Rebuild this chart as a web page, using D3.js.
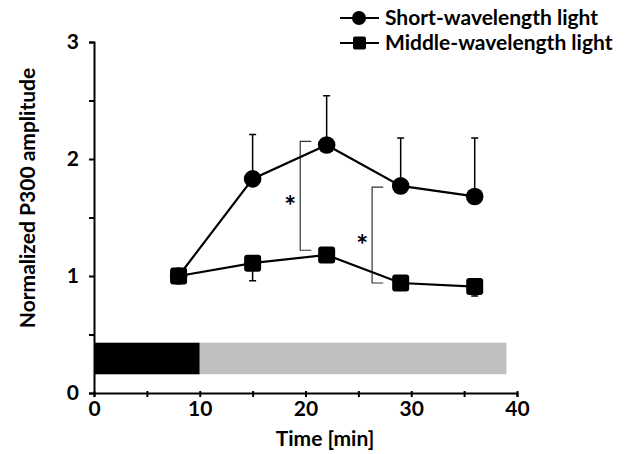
<!DOCTYPE html>
<html>
<head>
<meta charset="utf-8">
<script src="https://cdn.jsdelivr.net/npm/d3@7"></script>
<style>
  body { margin: 0; background: #fff; }
  svg text { font-family: Lato, "Open Sans", sans-serif; font-weight: bold; fill: #000; }
</style>
</head>
<body>
<svg id="chart" width="639" height="454"></svg>
<script>
var times = [8, 15, 22, 29, 36];
var shortVals = [1.00, 1.83, 2.12, 1.77, 1.68];
var shortErr = [0.03, 0.38, 0.42, 0.41, 0.50];
var middleVals = [1.00, 1.11, 1.18, 0.94, 0.91];
var middleErr = [0.03, 0.15, 0.05, 0.04, 0.08];
var xTicks = [0, 10, 20, 30, 40];
var yTicks = [0, 1, 2, 3];
var seriesNames = ['Short-wavelength light', 'Middle-wavelength light'];
// light schedule bar: [start, end] in minutes
var lightPhases = [[0, 10, '#000'], [10, 39, '#c0c0c0']];
// significance brackets: x, top, bottom
var brackets = [[19.5, 2.15, 1.22], [26.3, 1.76, 0.94]];

var svg = d3.select('#chart');
var x = d3.scaleLinear().domain([0, 40]).range([94, 517]);
var y = d3.scaleLinear().domain([0, 3]).range([393, 42]);

// light bar
svg.selectAll('rect.phase').data(lightPhases).enter().append('rect')
    .attr('class', 'phase')
    .attr('x', function(d) { return x(d[0]); })
    .attr('width', function(d) { return x(d[1]) - x(d[0]); })
    .attr('y', y(0.43))
    .attr('height', y(0.16) - y(0.43))
    .attr('fill', function(d) { return d[2]; });

// axes
var xAxis = svg.append('g').attr('transform', 'translate(0,' + y(0) + ')')
    .call(d3.axisBottom(x).tickValues(d3.range(0, 41, 5)).tickSize(4)
        .tickFormat(function(d) { return xTicks.indexOf(d) >= 0 ? d : ''; }));
var yAxis = svg.append('g').attr('transform', 'translate(' + x(0) + ',0)')
    .call(d3.axisLeft(y).tickValues(d3.range(0, 3.01, 0.5)).tickSize(5)
        .tickFormat(function(d) { return yTicks.indexOf(d) >= 0 ? d : ''; }));
[xAxis, yAxis].forEach(function(a) {
    a.select('.domain').attr('stroke', '#000').attr('stroke-width', 2);
    a.selectAll('.tick line').attr('stroke', '#000').attr('stroke-width', 2);
    a.selectAll('.tick text').attr('font-size', null).style('font-size', '21px')
        .attr('fill', '#000');
});
xAxis.selectAll('.tick line').attr('y1', -2);
xAxis.selectAll('.tick text').attr('y', 6).attr('dy', '0.8em');
yAxis.selectAll('.tick text').attr('x', -15);

svg.append('text').attr('x', 325).attr('y', 446).attr('text-anchor', 'middle')
    .style('font-size', '21px').text('Time [min]');
svg.append('text').attr('transform', 'translate(35,198) rotate(-90)')
    .attr('text-anchor', 'middle').style('font-size', '21px')
    .text('Normalized P300 amplitude');

// brackets
svg.selectAll('path.bracket').data(brackets).enter().append('path')
    .attr('class', 'bracket')
    .attr('fill', 'none').attr('stroke', '#333').attr('stroke-width', 1.2)
    .attr('d', function(d) {
        var bx = x(d[0]), w = x(d[0] + 1.05) - bx;
        return 'M' + (bx + w) + ',' + y(d[1]) + 'H' + bx + 'V' + y(d[2]) + 'H' + (bx + w);
    });
svg.selectAll('text.star').data(brackets).enter().append('text')
    .attr('class', 'star')
    .attr('x', function(d) { return x(d[0]) - 10; })
    .attr('y', function(d) { return y((d[1] + d[2]) / 2) + 20; })
    .attr('text-anchor', 'middle').attr('fill', '#000')
    .style('font-size', '28px').text('*');

function drawSeries(vals, errs, shape) {
    var g = svg.append('g');
    g.selectAll('path.err').data(times).enter().append('path')
        .attr('fill', 'none').attr('stroke', '#000').attr('stroke-width', 1.5)
        .attr('d', function(t, i) {
            var cx = x(t);
            var ey = shape == 'circle' ? y(vals[i] + errs[i]) : y(vals[i] - errs[i]);
            return 'M' + cx + ',' + y(vals[i]) + 'V' + ey + 'M' + (cx - 3.5) + ',' + ey + 'H' + (cx + 3.5);
        });
    var line = d3.line().x(function(d, i) { return x(times[i]); }).y(function(d) { return y(d); });
    g.append('path').datum(vals).attr('d', line)
        .attr('fill', 'none').attr('stroke', '#000').attr('stroke-width', 2.2);
    if (shape == 'circle') {
        g.selectAll('circle').data(vals).enter().append('circle')
            .attr('cx', function(d, i) { return x(times[i]); })
            .attr('cy', function(d) { return y(d); })
            .attr('r', 8.8).attr('fill', '#000');
    } else {
        g.selectAll('rect').data(vals).enter().append('rect')
            .attr('x', function(d, i) { return x(times[i]) - 8.5; })
            .attr('y', function(d) { return y(d) - 8.5; })
            .attr('width', 17).attr('height', 17).attr('rx', 3)
            .attr('fill', '#000');
    }
}
drawSeries(middleVals, middleErr, 'rect');
drawSeries(shortVals, shortErr, 'circle');

// legend
var legend = svg.append('g');
seriesNames.forEach(function(name, i) {
    var ly = 18 + i * 25;
    legend.append('line').attr('x1', 340).attr('x2', 379).attr('y1', ly).attr('y2', ly)
        .attr('stroke', '#000').attr('stroke-width', 2.2);
    if (i == 0) {
        legend.append('circle').attr('cx', 359).attr('cy', ly).attr('r', 7).attr('fill', '#000');
    } else {
        legend.append('rect').attr('x', 353).attr('y', ly - 6.5).attr('width', 13).attr('height', 13)
            .attr('rx', 2).attr('fill', '#000');
    }
    legend.append('text').attr('x', 385).attr('y', ly + 7).style('font-size', '21px').text(name);
});
</script>
</body>
</html>
